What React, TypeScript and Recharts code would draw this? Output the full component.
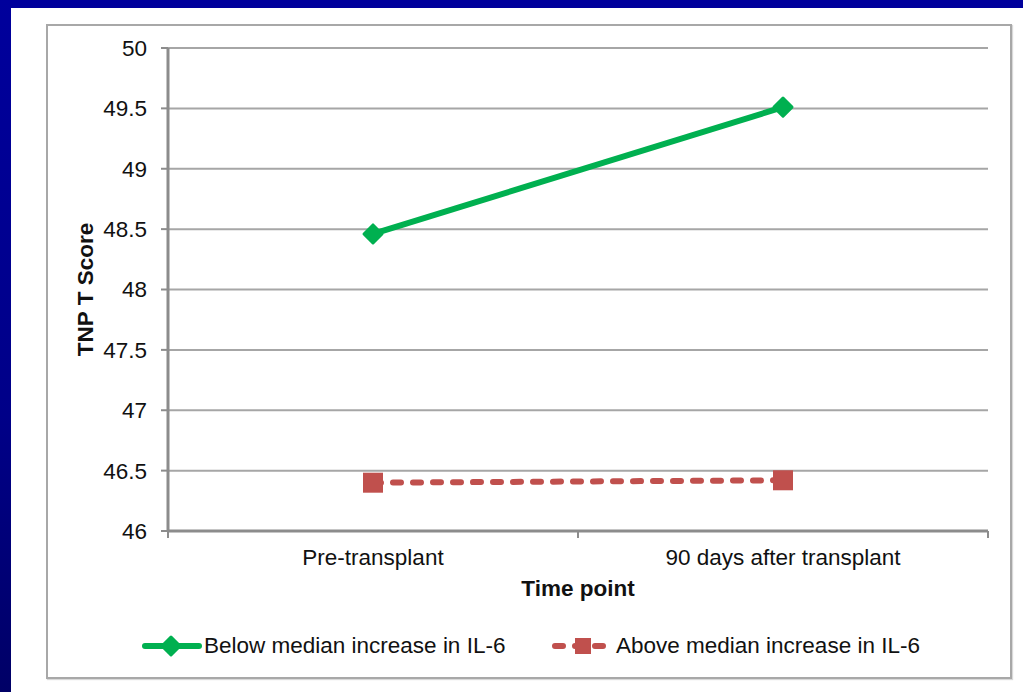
import { LineChart, Line, XAxis, YAxis, CartesianGrid, Legend } from 'recharts';

const timePoints = ['Pre-transplant', '90 days after transplant'];
const belowMedianIL6 = [48.46, 49.51];
const aboveMedianIL6 = [46.4, 46.42];
const yTicks = [46, 46.5, 47, 47.5, 48, 48.5, 49, 49.5, 50];
// category edges (0, 1, 2) carry the tick marks, centres (0.5, 1.5) carry the names
const xTicks = [0, 0.5, 1, 1.5, 2];

const GREEN = '#00b050';
const RED = '#c0504d';
const FONT = '"Liberation Sans", Arial, Helvetica, sans-serif';
const FS = 22.5;

const chartData = timePoints.map((name, i) => ({
  pos: i + 0.5,
  name,
  below: belowMedianIL6[i],
  above: aboveMedianIL6[i],
}));

function Diamond({ cx, cy }: any) {
  if (cx == null || cy == null) return null;
  const r = 9;
  return (
    <path
      d={`M${cx},${cy - r} L${cx + r},${cy} L${cx},${cy + r} L${cx - r},${cy} Z`}
      fill={GREEN}
      stroke={GREEN}
      strokeWidth={3}
      strokeLinejoin="round"
    />
  );
}

function Square({ cx, cy }: any) {
  if (cx == null || cy == null) return null;
  return <rect x={cx - 10} y={cy - 10} width={20} height={20} fill={RED} />;
}

function TimeTick({ x, y, payload }: any) {
  const v = payload.value;
  if (Number.isInteger(v)) {
    return <line x1={x} x2={x} y1={y - 7} y2={y} stroke="#8c8c8c" strokeWidth={2} />;
  }
  return (
    <text x={x} y={y + 27} textAnchor="middle" fontSize={FS} fill="#111" fontFamily={FONT}>
      {timePoints[Math.floor(v)]}
    </text>
  );
}

function YTitle({ viewBox }: any) {
  const cx = viewBox.x + 15;
  const cy = viewBox.y + viewBox.height / 2;
  return (
    <text
      x={cx}
      y={cy}
      transform={`rotate(-90, ${cx}, ${cy})`}
      textAnchor="middle"
      dominantBaseline="central"
      fontSize={FS}
      fontWeight="bold"
      fill="#111"
      fontFamily={FONT}
    >
      TNP T Score
    </text>
  );
}

function LegendContent() {
  return (
    <div style={{ height: 26, position: 'relative', fontFamily: FONT, fontSize: FS, color: '#111' }}>
      <div style={{ position: 'absolute', left: 142, top: 0, display: 'flex', alignItems: 'center', height: 26 }}>
        <svg width={60} height={26}>
          <line x1={3} x2={57} y1={13} y2={13} stroke={GREEN} strokeWidth={6} strokeLinecap="round" />
          <Diamond cx={29} cy={13} />
        </svg>
        <span style={{ marginLeft: 2 }}>Below median increase in IL-6</span>
      </div>
      <div style={{ position: 'absolute', left: 551, top: 0, display: 'flex', alignItems: 'center', height: 26 }}>
        <svg width={62} height={26}>
          <line x1={4} x2={60} y1={13} y2={13} stroke={RED} strokeWidth={6} strokeLinecap="round" strokeDasharray="8 12" />
          <rect x={24} y={5} width={16} height={16} fill={RED} />
        </svg>
        <span style={{ marginLeft: 3 }}>Above median increase in IL-6</span>
      </div>
    </div>
  );
}

export default function App() {
  return (
    <div
      style={{
        position: 'absolute',
        left: 0,
        top: 0,
        width: 1023,
        height: 692,
        background: 'linear-gradient(to bottom, #00009c 0%, #000088 60%, #000066 100%)',
        overflow: 'hidden',
      }}
    >
      <div style={{ position: 'absolute', left: 11, top: 8, width: 1012, height: 684, background: '#fff' }} />
      <div
        style={{
          position: 'absolute',
          left: 46,
          top: 24,
          width: 962,
          height: 651,
          border: '2px solid #a8a8a8',
          boxShadow: '1px 1px 1px rgba(0,0,0,0.15)',
        }}
      />
      <div style={{ position: 'absolute', left: 0, top: 0 }}>
        <LineChart
          width={1023}
          height={692}
          data={chartData}
          margin={{ top: 48, right: 35, left: 70, bottom: 65 }}
        >
          <CartesianGrid horizontal vertical={false} stroke="#a6a6a6" strokeWidth={2} />
          <XAxis
            dataKey="pos"
            type="number"
            domain={[0, 2]}
            ticks={xTicks}
            interval={0}
            height={70}
            tickSize={7}
            tickMargin={0}
            tickLine={false}
            axisLine={{ stroke: '#8c8c8c', strokeWidth: 3 }}
            tick={<TimeTick />}
            label={{
              value: 'Time point',
              position: 'insideBottom',
              offset: 5,
              fontSize: FS,
              fontWeight: 'bold',
              fill: '#111',
              fontFamily: FONT,
            }}
          />
          <YAxis
            type="number"
            domain={[46, 50]}
            ticks={yTicks}
            interval={0}
            width={98}
            tickSize={7}
            tickMargin={14}
            tickLine={{ stroke: '#8c8c8c', strokeWidth: 2 }}
            axisLine={{ stroke: '#8c8c8c', strokeWidth: 3 }}
            tick={{ fontSize: FS, fill: '#111', fontFamily: FONT }}
            label={{ content: <YTitle /> }}
          />
          <Legend verticalAlign="bottom" wrapperStyle={{ left: 0, top: 633, width: 1023, height: 26 }} content={<LegendContent />} />
          <Line
            dataKey="below"
            name="Below median increase in IL-6"
            stroke={GREEN}
            strokeWidth={6}
            dot={<Diamond />}
            activeDot={false}
            isAnimationActive={false}
          />
          <Line
            dataKey="above"
            name="Above median increase in IL-6"
            stroke={RED}
            strokeWidth={6}
            strokeDasharray="8 12"
            strokeLinecap="round"
            dot={<Square />}
            activeDot={false}
            isAnimationActive={false}
          />
        </LineChart>
      </div>
    </div>
  );
}
